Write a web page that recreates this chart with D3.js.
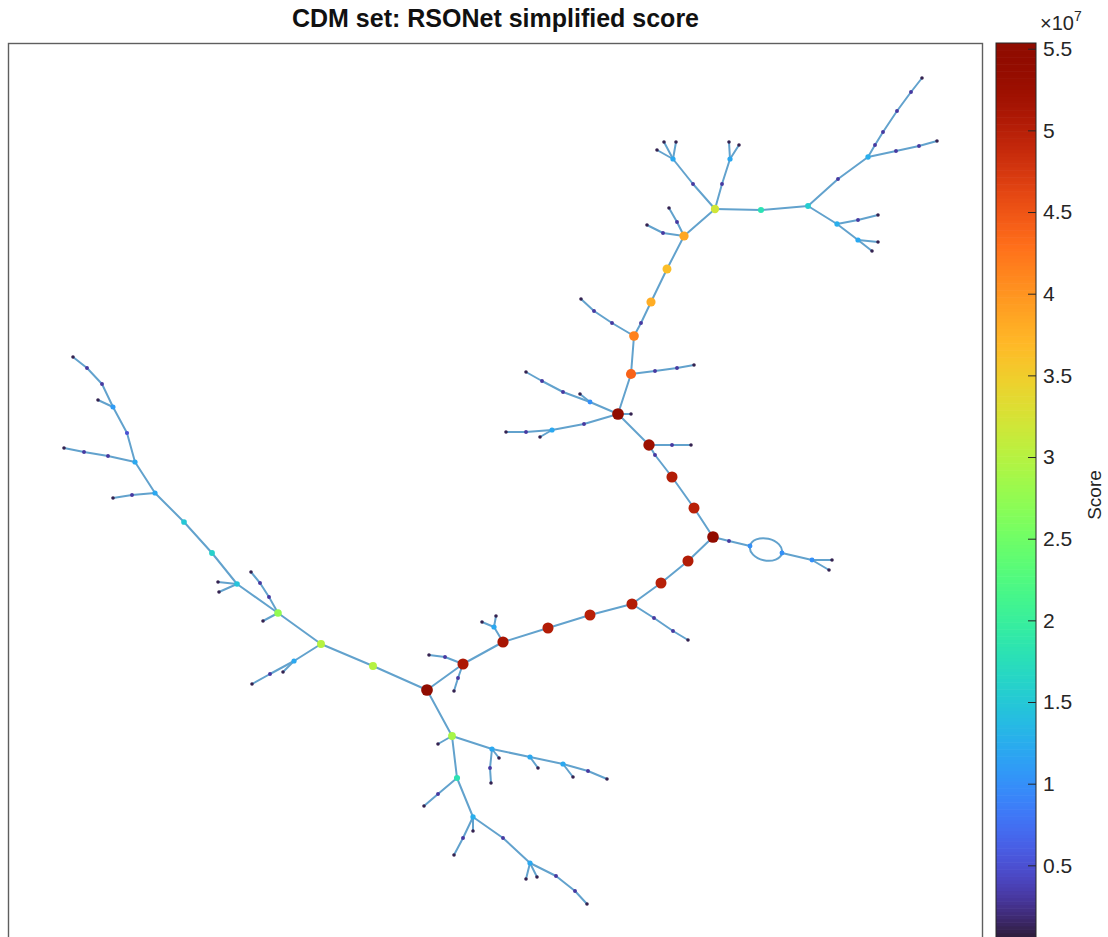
<!DOCTYPE html>
<html>
<head>
<meta charset="utf-8">
<script src="https://cdn.jsdelivr.net/npm/d3@7"></script>
<style>
  body { margin: 0; background: #fff; }
  svg { display: block; font-family: "Liberation Sans", Arial, sans-serif; }
</style>
</head>
<body>
<svg id="chart" width="1108" height="937"></svg>
<script>
// node = [id, layoutX, layoutY, score (x1e7)]
const spineNodes = [
  ['s1', 618, 414, 5.5], ['s2', 649, 445, 5.25], ['s2b', 655, 455, 0.3],
  ['s3', 672, 477, 5.05], ['s4', 694, 508, 5.0], ['s5', 713, 537, 5.45],
  ['s6', 688, 561, 5.05], ['s7', 661, 583, 5.0], ['s8', 632, 604, 5.05],
  ['s9', 590, 615, 5.0], ['s10', 548, 628, 5.05], ['s11', 503, 642, 5.15],
  ['s12', 463, 664, 5.1], ['s13', 427, 690, 5.5]
];
const upperNodes = [
  ['u1', 631, 374, 4.4], ['u2', 634, 336, 4.15], ['u2b', 641, 323, 0.3],
  ['u3', 651, 302, 3.8], ['u4', 667, 269, 3.65], ['u5', 684, 236, 3.85],
  ['u6', 715, 209, 3.2], ['u7', 761, 210, 1.8], ['u8', 808, 206, 1.55]
];
const topRightNodes = [
  ['t1', 838, 179, 0.3], ['t2', 868, 157, 1.25], ['t3', 875, 145, 0.3],
  ['t4', 883, 132, 0.3], ['t5', 897, 111, 0.3], ['t6', 911, 92, 0.3],
  ['t7', 922, 78, 0.1], ['t8', 896, 151, 0.3], ['t9', 919, 146, 0.3],
  ['t10', 937, 141, 0.1], ['t11', 837, 224, 1.25], ['t12', 858, 220, 0.3],
  ['t13', 878, 215, 0.1], ['t14', 858, 240, 1.2], ['t15', 878, 242, 0.1],
  ['t16', 872, 251, 0.1],
  ['a1', 693, 184, 0.3], ['a2', 673, 159, 1.2], ['a3', 657, 150, 0.1],
  ['a4', 664, 142, 0.1], ['a5', 676, 142, 0.1], ['a6', 722, 184, 0.3],
  ['a7', 730, 159, 1.2], ['a8', 729, 142, 0.1], ['a9', 739, 145, 0.1],
  ['b1', 663, 233, 0.3], ['b2', 647, 225, 0.1], ['b3', 677, 222, 0.3],
  ['b4', 669, 208, 0.1]
];
const midNodes = [
  ['c1', 612, 323, 0.3], ['c2', 594, 311, 0.3], ['c3', 581, 299, 0.1],
  ['d1', 655, 371, 0.3], ['d2', 677, 368, 0.3], ['d3', 694, 365, 0.1],
  ['e1', 631, 414, 0.1],
  ['f1', 590, 402, 1.0], ['f2', 580, 394, 0.1], ['f3', 563, 392, 0.3],
  ['f4', 542, 381, 0.3], ['f5', 526, 372, 0.1],
  ['g1', 584, 424, 0.3], ['g2', 552, 430, 1.2], ['g3', 540, 437, 0.1],
  ['g4', 526, 432, 0.3], ['g5', 506, 432, 0.1],
  ['h1', 672, 445, 0.3], ['h2', 691, 445, 0.1],
  ['l1', 729, 541, 0.3], ['l2', 750, 546, 1.0], ['l3', 782, 553, 1.0],
  ['l4', 812, 560, 1.0], ['l5', 832, 560, 0.1], ['l6', 829, 570, 0.1],
  ['m1', 654, 618, 0.3], ['m2', 673, 631, 0.3], ['m3', 688, 640, 0.1],
  ['n1', 494, 627, 1.2], ['n2', 482, 622, 0.1], ['n3', 496, 616, 0.1],
  ['o1', 445, 657, 0.3], ['o2', 429, 655, 0.1], ['o3', 458, 678, 0.3],
  ['o4', 454, 691, 0.1]
];
const leftNodes = [
  ['L1', 373, 666, 3.0], ['L2', 321, 644, 3.0], ['L3', 278, 613, 2.75],
  ['L4', 237, 584, 1.45], ['L5', 212, 553, 1.6], ['L6', 184, 522, 1.5],
  ['L7', 155, 493, 1.2], ['L8', 135, 462, 1.2], ['L9', 127, 433, 0.5],
  ['L10', 113, 407, 1.1], ['L11', 102, 384, 0.3], ['L12', 87, 368, 0.3],
  ['L13', 73, 357, 0.1],
  ['p1', 132, 495, 0.3], ['p2', 113, 498, 0.1],
  ['q1', 108, 456, 0.3], ['q2', 84, 452, 0.3], ['q3', 64, 448, 0.1],
  ['r1', 98, 400, 0.1], ['w1', 218, 582, 0.1], ['w2', 219, 592, 0.1],
  ['x1', 269, 597, 0.3], ['x2', 260, 583, 0.3], ['x3', 251, 572, 0.1],
  ['x4', 263, 621, 0.1],
  ['y1', 294, 661, 1.2], ['y2', 283, 672, 0.1], ['y3', 270, 674, 0.3],
  ['y4', 252, 684, 0.1]
];
const bottomNodes = [
  ['B1', 452, 736, 2.9], ['B2', 438, 744, 0.1], ['B3', 492, 749, 1.2],
  ['B4', 490, 768, 0.3], ['B5', 491, 783, 0.1], ['B6', 499, 758, 0.1],
  ['B7', 530, 757, 1.2], ['B8', 538, 768, 0.1], ['B9', 563, 764, 1.2],
  ['B10', 573, 777, 0.1], ['B11', 588, 771, 0.3], ['B12', 607, 779, 0.1],
  ['C1', 457, 778, 1.8], ['C2', 438, 794, 0.3], ['C3', 424, 806, 0.1],
  ['C4', 473, 817, 1.25], ['C5', 473, 831, 0.1], ['C6', 463, 838, 0.3],
  ['C7', 454, 855, 0.1], ['C8', 503, 838, 0.3], ['C9', 530, 863, 1.2],
  ['C10', 526, 879, 0.1], ['C11', 537, 877, 0.1], ['C12', 556, 876, 0.3],
  ['C13', 575, 891, 0.3], ['C14', 587, 904, 0.1]
];

// edges written as chains of node ids
const edgeChains = [
  ['u8', 'u7', 'u6', 'u5', 'u4', 'u3', 'u2b', 'u2', 'u1', 's1', 's2', 's2b', 's3', 's4', 's5',
   's6', 's7', 's8', 's9', 's10', 's11', 's12', 's13'],
  ['u8', 't1', 't2', 't3', 't4', 't5', 't6', 't7'], ['t2', 't8', 't9', 't10'],
  ['u8', 't11', 't12', 't13'], ['t11', 't14', 't15'], ['t14', 't16'],
  ['u6', 'a1', 'a2', 'a3'], ['a2', 'a4'], ['a2', 'a5'],
  ['u6', 'a6', 'a7', 'a8'], ['a7', 'a9'],
  ['u5', 'b1', 'b2'], ['u5', 'b3', 'b4'],
  ['u2', 'c1', 'c2', 'c3'], ['u1', 'd1', 'd2', 'd3'], ['s1', 'e1'],
  ['s1', 'f1', 'f2'], ['f1', 'f3', 'f4', 'f5'],
  ['s1', 'g1', 'g2', 'g3'], ['g2', 'g4', 'g5'],
  ['s2', 'h1', 'h2'],
  ['s5', 'l1', 'l2'], ['l3', 'l4', 'l5'], ['l4', 'l6'],
  ['s8', 'm1', 'm2', 'm3'],
  ['s11', 'n1', 'n2'], ['n1', 'n3'],
  ['s12', 'o1', 'o2'], ['s12', 'o3', 'o4'],
  ['s13', 'L1', 'L2', 'L3', 'L4', 'L5', 'L6', 'L7', 'L8', 'L9', 'L10', 'L11', 'L12', 'L13'],
  ['L7', 'p1', 'p2'], ['L8', 'q1', 'q2', 'q3'], ['L10', 'r1'],
  ['L4', 'w1'], ['L4', 'w2'],
  ['L3', 'x1', 'x2', 'x3'], ['L3', 'x4'],
  ['L2', 'y1', 'y2'], ['y1', 'y3', 'y4'],
  ['s13', 'B1', 'B2'], ['B1', 'B3', 'B4', 'B5'], ['B3', 'B6'],
  ['B3', 'B7', 'B8'], ['B7', 'B9', 'B10'], ['B9', 'B11', 'B12'],
  ['B1', 'C1', 'C2', 'C3'], ['C1', 'C4', 'C5'], ['C4', 'C6', 'C7'],
  ['C4', 'C8', 'C9', 'C10'], ['C9', 'C11'], ['C9', 'C12', 'C13', 'C14']
];
// the double edge near the right hub
const loopEdges = [['l2', 'l3']];

const cbTicks = [0.5, 1, 1.5, 2, 2.5, 3, 3.5, 4, 4.5, 5, 5.5];
const scoreMax = 5.535;

const svg = d3.select('#chart');
const box = { left: 8.5, top: 43.5, right: 982.5, bottom: 1000 };
const cb = { left: 996, right: 1036, top: 43, bottom: 947 };

const xScale = d3.scaleLinear().domain([8.5, 982.5]).range([box.left, box.right]);
const yScale = d3.scaleLinear().domain([43.5, 1000]).range([box.top, box.bottom]);
const color = d3.scaleSequential(d3.interpolateTurbo).domain([0, scoreMax]);
const radius = d3.scaleLinear().domain([0, scoreMax]).range([1.7, 5.9]);

const nodes = [].concat(spineNodes, upperNodes, topRightNodes, midNodes, leftNodes, bottomNodes)
  .map(d => ({ id: d[0], x: d[1], y: d[2], score: d[3] }));
const byId = new Map(nodes.map(d => [d.id, d]));

let links = [];
edgeChains.forEach(chain => {
  for (let i = 1; i < chain.length; i++) {
    links.push([byId.get(chain[i - 1]), byId.get(chain[i])]);
  }
});

// title
svg.append('text')
  .attr('x', (box.left + box.right) / 2)
  .attr('y', 27)
  .attr('text-anchor', 'middle')
  .attr('font-size', 25)
  .attr('font-weight', 'bold')
  .attr('fill', '#111')
  .text('CDM set: RSONet simplified score');

// axes box
svg.append('rect')
  .attr('x', box.left)
  .attr('y', box.top)
  .attr('width', box.right - box.left)
  .attr('height', box.bottom - box.top)
  .attr('fill', 'none')
  .attr('stroke', '#5f5f5f')
  .attr('stroke-width', 1.4);

const plot = svg.append('g');

plot.selectAll('line.edge')
  .data(links)
  .enter().append('line')
  .attr('class', 'edge')
  .attr('x1', d => xScale(d[0].x))
  .attr('y1', d => yScale(d[0].y))
  .attr('x2', d => xScale(d[1].x))
  .attr('y2', d => yScale(d[1].y))
  .attr('stroke', '#62a2cd')
  .attr('stroke-width', 2)
  .attr('stroke-linecap', 'round');

// two parallel edges drawn as half ellipses
loopEdges.forEach(e => {
  const a = byId.get(e[0]);
  const b = byId.get(e[1]);
  const x1 = xScale(a.x), y1 = yScale(a.y), x2 = xScale(b.x), y2 = yScale(b.y);
  const rx = Math.hypot(x2 - x1, y2 - y1) / 2;
  const ang = Math.atan2(y2 - y1, x2 - x1) * 180 / Math.PI;
  [0, 1].forEach(sweep => {
    plot.append('path')
      .attr('d', `M${x1},${y1} A${rx},11 ${ang} 0 ${sweep} ${x2},${y2}`)
      .attr('fill', 'none')
      .attr('stroke', '#62a2cd')
      .attr('stroke-width', 2);
  });
});

plot.selectAll('circle.node')
  .data(nodes.slice().sort((a, b) => a.score - b.score))
  .enter().append('circle')
  .attr('class', 'node')
  .attr('cx', d => xScale(d.x))
  .attr('cy', d => yScale(d.y))
  .attr('r', d => radius(d.score))
  .attr('fill', d => color(d.score));

// colorbar
const cbScale = d3.scaleLinear().domain([0, scoreMax]).range([cb.bottom, cb.top]);
const steps = d3.range(256);
const stepH = (cb.bottom - cb.top) / steps.length;
svg.append('g').selectAll('rect')
  .data(steps)
  .enter().append('rect')
  .attr('x', cb.left)
  .attr('y', d => cb.bottom - (d + 1) * stepH)
  .attr('width', cb.right - cb.left)
  .attr('height', stepH + 0.6)
  .attr('fill', d => d3.interpolateTurbo(d / 255));

svg.append('rect')
  .attr('x', cb.left)
  .attr('y', cb.top)
  .attr('width', cb.right - cb.left)
  .attr('height', cb.bottom - cb.top)
  .attr('fill', 'none')
  .attr('stroke', '#262626')
  .attr('stroke-width', 1);

const cbAxis = svg.append('g')
  .attr('transform', `translate(${cb.right},0)`)
  .call(d3.axisRight(cbScale).tickValues(cbTicks).tickSize(-8).tickPadding(7).tickFormat(d => d));
cbAxis.select('.domain').remove();
cbAxis.attr('font-size', 21).attr('font-family', '"Liberation Sans", Arial, sans-serif');
cbAxis.selectAll('line').attr('stroke', '#262626');
cbAxis.selectAll('text').attr('fill', '#262626');

// exponent label
const expo = svg.append('text')
  .attr('x', 1040)
  .attr('y', 30)
  .attr('font-size', 20)
  .attr('fill', '#262626');
expo.append('tspan').text('\u00d710');
expo.append('tspan').attr('dy', -9).attr('font-size', 14).text('7');

svg.append('text')
  .attr('transform', `translate(1101,${(cb.top + cb.bottom) / 2}) rotate(-90)`)
  .attr('text-anchor', 'middle')
  .attr('font-size', 19)
  .attr('fill', '#262626')
  .text('Score');
</script>
</body>
</html>
